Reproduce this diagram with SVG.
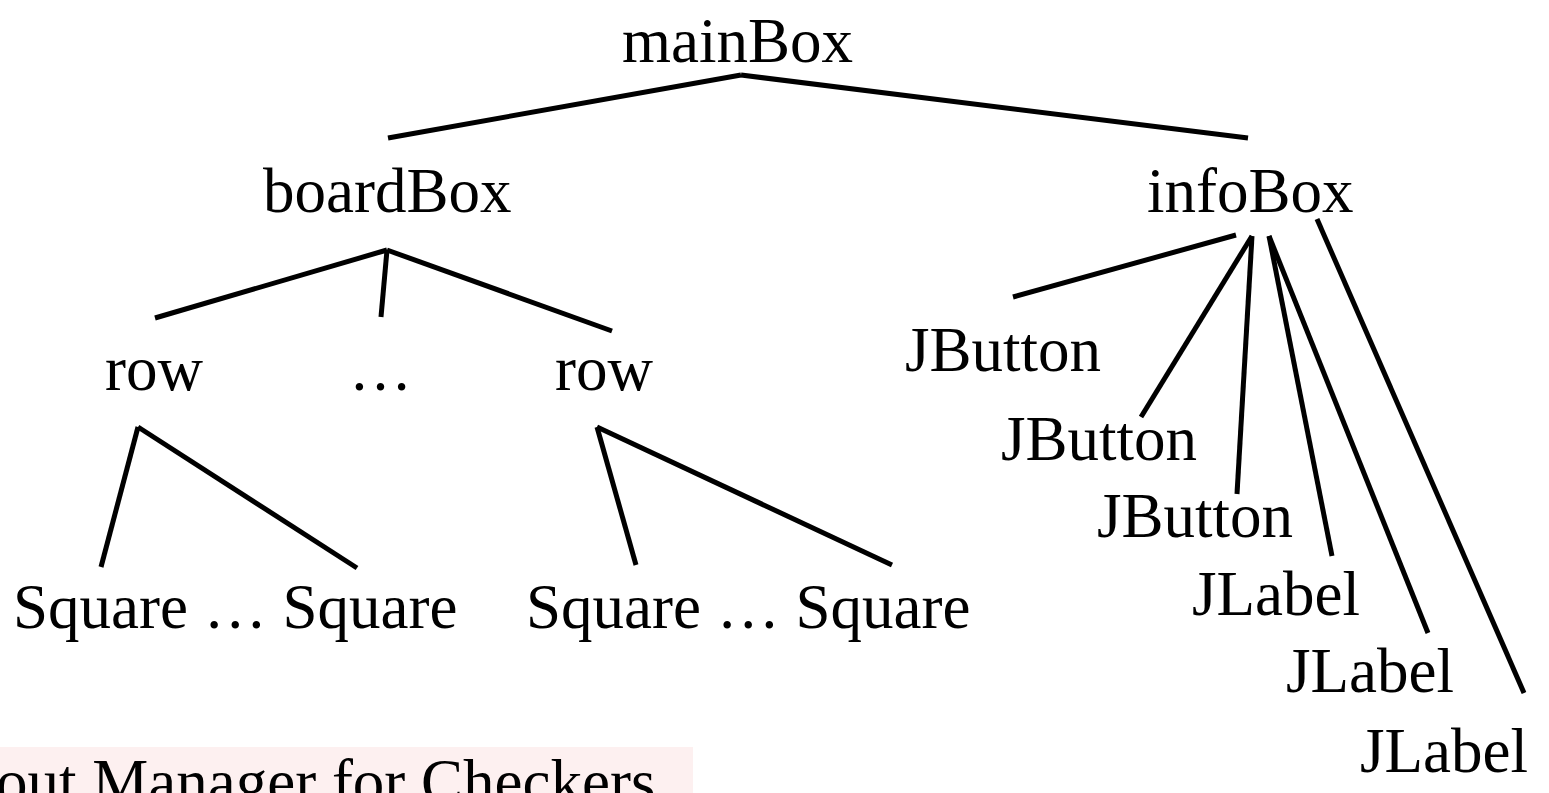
<svg xmlns="http://www.w3.org/2000/svg" width="1549" height="793" viewBox="0 0 1549 793">
<style>
text{font-family:"Liberation Serif","Times New Roman",serif;font-size:63px;fill:#000}
.c line{stroke:#000;stroke-width:5;stroke-linecap:butt}
</style>
<rect width="1549" height="793" fill="#fff"/>
<g id="connectors" class="c">
<line x1="741" y1="75" x2="388" y2="138"/>
<line x1="741" y1="75" x2="1248" y2="138"/>
<line x1="387" y1="250" x2="155" y2="318"/>
<line x1="387" y1="250" x2="381" y2="317"/>
<line x1="387" y1="250" x2="612" y2="331"/>
<line x1="138" y1="427" x2="101" y2="567"/>
<line x1="138" y1="427" x2="357" y2="568"/>
<line x1="597" y1="427" x2="636" y2="565"/>
<line x1="597" y1="427" x2="892" y2="565"/>
<line x1="1236" y1="235" x2="1013" y2="297"/>
<line x1="1252" y1="236" x2="1141" y2="417"/>
<line x1="1252" y1="236" x2="1237" y2="494"/>
<line x1="1269" y1="236" x2="1332" y2="556"/>
<line x1="1269" y1="236" x2="1428" y2="633"/>
<line x1="1317" y1="219" x2="1524" y2="693"/>
</g>
<g id="mainBox"><text x="622" y="62">mainBox</text></g>
<g id="boardBox"><text x="263" y="212">boardBox</text></g>
<g id="infoBox"><text x="1147" y="212">infoBox</text></g>
<g id="row1"><text x="105" y="390">row</text></g>
<g id="rowEllipsis"><text x="349" y="390">…</text></g>
<g id="row2"><text x="555" y="390">row</text></g>
<g id="squares1"><text x="13" y="628">Square … Square</text></g>
<g id="squares2"><text x="526" y="628">Square … Square</text></g>
<g id="jbutton1"><text x="905" y="371">JButton</text></g>
<g id="jbutton2"><text x="1001" y="460">JButton</text></g>
<g id="jbutton3"><text x="1097" y="537">JButton</text></g>
<g id="jlabel1"><text x="1192" y="615">JLabel</text></g>
<g id="jlabel2"><text x="1286" y="692">JLabel</text></g>
<g id="jlabel3"><text x="1360" y="772">JLabel</text></g>
<g id="caption">
<rect x="0" y="747" width="693" height="46" fill="#fdf0f0"/>
<text x="-4" y="803">out Manager for Checkers</text>
</g>
</svg>
